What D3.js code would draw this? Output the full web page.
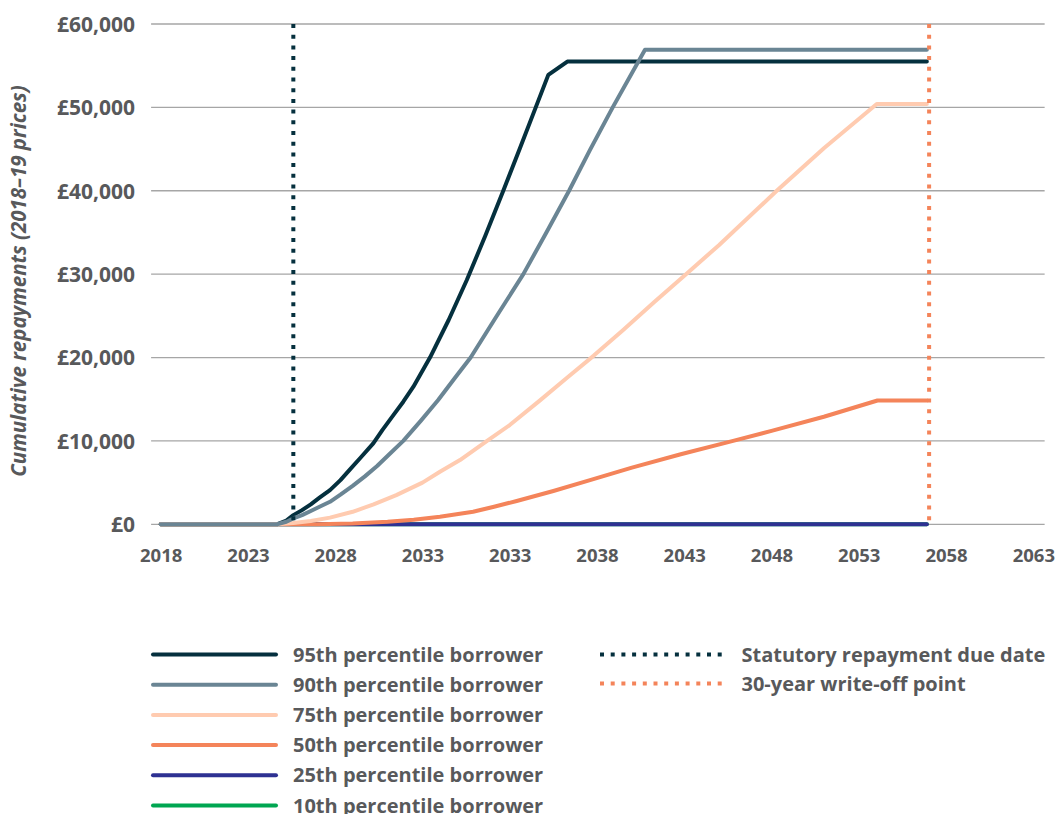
<!DOCTYPE html>
<html>
<head>
<meta charset="utf-8">
<script src="https://cdn.jsdelivr.net/npm/d3@7"></script>
<style>
  html, body { margin: 0; padding: 0; background: #ffffff; }
  svg { display: block; font-family: "Open Sans", sans-serif; }
</style>
</head>
<body>
<svg id="chart" width="1056" height="814"></svg>
<script>
// ---------- DATA (x = years after first tick) ----------
const tickPositions = [0, 5, 10, 15, 20, 25, 30, 35, 40, 45, 50];
const tickLabels = ["2018", "2023", "2028", "2033", "2033", "2038", "2043", "2048", "2053", "2058", "2063"];
const yTicks = [0, 10000, 20000, 30000, 40000, 50000, 60000];

const seriesNames = ["95th percentile borrower", "90th percentile borrower", "75th percentile borrower",
                     "50th percentile borrower", "25th percentile borrower", "10th percentile borrower"];
const seriesColors = ["#05303e", "#6a8594", "#ffcbb0", "#f4845a", "#2e3192", "#00a651"];

const p95Years  = [0, 6.66, 7.2, 7.6, 8.1, 8.6, 9.1, 9.7, 10.3, 10.9, 11.5, 12.18, 12.7, 13.3, 13.9, 14.48, 15.43, 16.5, 17.54, 18.6, 19.63, 20.6, 21.49, 22.21, 23.3, 43.9];
const p95Values = [0, 0, 450, 1100, 1700, 2400, 3200, 4100, 5300, 6700, 8100, 9700, 11300, 13000, 14700, 16500, 20000, 24500, 29300, 34600, 40000, 45200, 50000, 53900, 55500, 55500];

const p90Years  = [0, 6.66, 7.2, 7.6, 8.1, 8.6, 9.1, 9.7, 10.3, 11, 11.7, 12.4, 13.1, 13.9, 14.9, 15.9, 16.8, 17.76, 19.2, 20.78, 22.1, 23.4, 24.6, 25.9, 27.75, 43.9];
const p90Values = [0, 0, 300, 700, 1100, 1600, 2100, 2700, 3550, 4600, 5750, 7000, 8400, 10000, 12400, 14900, 17400, 20000, 24800, 30000, 35000, 40000, 44900, 50000, 56900, 56900];

const p75Years  = [0, 6.66, 7.6, 8.6, 9.7, 11, 12.2, 13.5, 15, 16, 17.15, 18.7, 20, 21.7, 23.3, 24.8, 26.5, 28.3, 30.1, 32, 35.3, 38, 41.03, 43.9];
const p75Values = [0, 0, 150, 400, 800, 1500, 2400, 3500, 5000, 6300, 7700, 10000, 11900, 14800, 17600, 20200, 23300, 26700, 30000, 33500, 40000, 45100, 50400, 50400];

const p50Years  = [0, 6.66, 9, 11, 13, 14.5, 16, 17.9, 19.1, 20.4, 22.5, 24.6, 27, 29.8, 32.8, 35, 38, 41.07, 43.9];
const p50Values = [0, 0, 20, 100, 300, 550, 900, 1500, 2100, 2800, 4000, 5300, 6800, 8400, 10000, 11200, 12900, 14850, 14850];

const p25Years  = [0, 43.9];
const p25Values = [0, 0];

const p10Years  = [0, 43.9];
const p10Values = [0, 0];

const refLineNames  = ["Statutory repayment due date", "30-year write-off point"];
const refLineYears  = [7.6, 44.03];
const refLineColors = ["#05303e", "#f4845a"];

// ---------- LAYOUT ----------
const svg = d3.select("#chart");
const textColor = "#58595b";
const x = d3.scaleLinear().domain([0, 50]).range([160.7, 1033.3]);
const y = d3.scaleLinear().domain([0, 60000]).range([524.3, 24]);
const gridX0 = x(-0.55), gridX1 = x(50.65);

// gridlines
svg.append("g").selectAll("line").data(yTicks).join("line")
  .attr("x1", gridX0).attr("x2", gridX1)
  .attr("y1", d => y(d)).attr("y2", d => y(d))
  .attr("stroke", "#a6a6a6").attr("stroke-width", 1.3);

// y axis labels
const yAxis = d3.axisLeft(y).tickValues(yTicks).tickSize(0).tickPadding(0)
  .tickFormat(d => "£" + d3.format(",")(d));
const yg = svg.append("g").attr("transform", "translate(135,0)").call(yAxis);
yg.select(".domain").remove();
yg.selectAll("text").attr("font-size", 21).attr("font-weight", 700)
  .attr("fill", textColor).attr("font-family", "'Open Sans', sans-serif").attr("dy", "0.35em");

// x axis labels
const xAxis = d3.axisBottom(x).tickValues(tickPositions).tickSize(0).tickPadding(0)
  .tickFormat((d, i) => tickLabels[i]);
const xg = svg.append("g").attr("transform", "translate(0,548)").call(xAxis);
xg.select(".domain").remove();
xg.selectAll("text").attr("font-size", 18.5).attr("font-weight", 700)
  .attr("fill", textColor).attr("font-family", "'Open Sans', sans-serif").attr("dy", "0.78em");

// y title
svg.append("text")
  .attr("transform", "translate(26,281) rotate(-90)")
  .attr("text-anchor", "middle")
  .attr("font-size", 20.5).attr("font-weight", 700).attr("font-style", "italic")
  .attr("fill", textColor)
  .text("Cumulative repayments (2018–19 prices)");

// series
const seriesYears = [p95Years, p90Years, p75Years, p50Years, p25Years, p10Years];
const seriesValues = [p95Values, p90Values, p75Values, p50Values, p25Values, p10Values];
const line = d3.line().x(d => x(d[0])).y(d => y(d[1])).curve(d3.curveLinear);
const drawOrder = [0, 5, 4, 3, 2, 1];
const sg = svg.append("g");
drawOrder.forEach(i => {
  const pts = seriesYears[i].map((t, k) => [t, seriesValues[i][k]]);
  sg.append("path").datum(pts)
    .attr("d", line)
    .attr("fill", "none")
    .attr("stroke", seriesColors[i])
    .attr("stroke-width", 4)
    .attr("stroke-linecap", "round")
    .attr("stroke-linejoin", "round");
});

// reference dotted lines
svg.append("g").selectAll("line").data(refLineYears).join("line")
  .attr("x1", d => x(d)).attr("x2", d => x(d))
  .attr("y1", y(60000)).attr("y2", y(0))
  .attr("stroke", (d, i) => refLineColors[i])
  .attr("stroke-width", 4)
  .attr("stroke-dasharray", "4,6.7");

// legend - series
const legL = svg.append("g");
seriesNames.forEach((name, i) => {
  const ly = 654.5 + i * 30.2;
  legL.append("line").attr("x1", 153).attr("x2", 276).attr("y1", ly).attr("y2", ly)
    .attr("stroke", seriesColors[i]).attr("stroke-width", 4).attr("stroke-linecap", "round");
  legL.append("text").attr("x", 293).attr("y", ly).attr("dy", "0.35em")
    .attr("font-size", 20).attr("font-weight", 700).attr("fill", textColor).text(name);
});

// legend - reference lines
const legR = svg.append("g");
refLineNames.forEach((name, i) => {
  const ly = 654.5 + i * 29;
  legR.append("line").attr("x1", 600).attr("x2", 724).attr("y1", ly).attr("y2", ly)
    .attr("stroke", refLineColors[i]).attr("stroke-width", 4).attr("stroke-dasharray", "4,6.7");
  legR.append("text").attr("x", 741.5).attr("y", ly).attr("dy", "0.35em")
    .attr("font-size", 20).attr("font-weight", 700).attr("fill", textColor).text(name);
});
</script>
</body>
</html>
